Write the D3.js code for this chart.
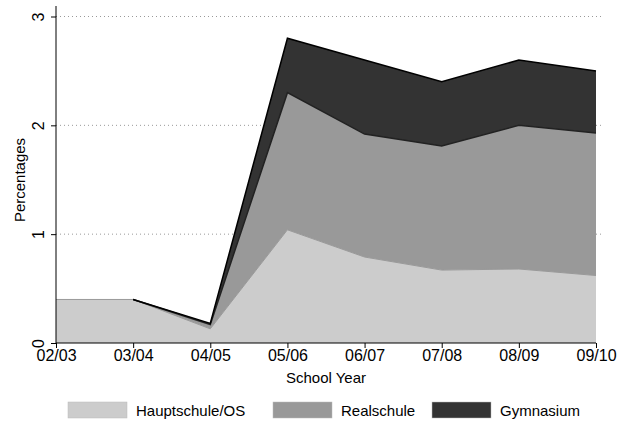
<!DOCTYPE html>
<html><head><meta charset="utf-8">
<script src="https://cdn.jsdelivr.net/npm/d3@7"></script>
<style>body{margin:0;background:#fff}text{font-family:"Liberation Sans",Arial,sans-serif}</style>
</head><body>
<script>
var years = ["02/03","03/04","04/05","05/06","06/07","07/08","08/09","09/10"]
var hauptschule = [0.40, 0.40, 0.13, 1.04, 0.79, 0.67, 0.68, 0.62]
var realschule = [null, 0.00, 0.04, 1.26, 1.13, 1.14, 1.32, 1.31]
var gymnasium = [null, 0.00, 0.01, 0.50, 0.68, 0.59, 0.60, 0.57]
var names = ["Hauptschule/OS","Realschule","Gymnasium"]
var fills = ["#cccccc","#999999","#333333"]
var yTicks = [0,1,2,3]

var svg = d3.select("body").append("svg").attr("width",624).attr("height",424)
var x = d3.scalePoint().domain(years).range([56,596])
var y = d3.scaleLinear().domain([0,3]).range([343,16.5])

// dotted grid
svg.selectAll(".grid").data(yTicks.slice(1)).enter().append("line")
  .attr("x1",56).attr("x2",604).attr("y1",y).attr("y2",y)
  .attr("stroke","#999").attr("stroke-dasharray","1,3")

var series = [hauptschule, realschule, gymnasium]
var stacks = series.map(function(s,k){
  return years.map(function(yr,i){
    var lo = 0
    for (var j=0;j<k;j++) lo += series[j][i] || 0
    return {yr:yr, lo:lo, hi: s[i]==null ? null : lo + s[i]}
  })
})
var area = d3.area().defined(function(d){return d.hi!=null})
  .x(function(d){return x(d.yr)}).y0(function(d){return y(d.lo)}).y1(function(d){return y(d.hi)})
var line = d3.line().defined(function(d){return d.hi!=null})
  .x(function(d){return x(d.yr)}).y(function(d){return y(d.hi)})
var strokes = ["#999","#222","#000"]
stacks.forEach(function(st,k){
  svg.append("path").attr("d",area(st)).attr("fill",fills[k])
})
stacks.forEach(function(st,k){
  svg.append("path").attr("d",line(st)).attr("fill","none").attr("stroke",strokes[k]).attr("stroke-width",k==0?1:1.5)
})

var ya = svg.append("g").attr("transform","translate(56,0)")
  .call(d3.axisLeft(y).tickValues(yTicks).tickSize(5).tickFormat(d3.format("d")))
ya.select(".domain").attr("d","M0,"+y(0)+"V6")
ya.selectAll("text").attr("x",null).attr("dy",null).attr("y",null)
  .attr("transform","translate(-12,0) rotate(-90)")
  .attr("text-anchor","middle").attr("font-size",16).attr("fill","#000")

var xa = svg.append("g").attr("transform","translate(0,343)")
  .call(d3.axisBottom(x).tickSize(5).tickPadding(2))
xa.select(".domain").attr("d","M56,0H596")
xa.selectAll("text").attr("font-size",16).attr("fill","#000")
svg.selectAll(".tick line").attr("stroke","#000")

svg.append("text").attr("x",326).attr("y",383).attr("text-anchor","middle").attr("font-size",15).text("School Year")
svg.append("text").attr("transform","translate(25,180) rotate(-90)").attr("text-anchor","middle").attr("font-size",15).text("Percentages")

var lx = [68,273,432]
names.forEach(function(n,k){
  svg.append("rect").attr("x",lx[k]).attr("y",402).attr("width",59).attr("height",16).attr("fill",fills[k]).attr("stroke","#bbb").attr("stroke-width",0.5)
  svg.append("text").attr("x",lx[k]+68).attr("y",416).attr("font-size",15).text(n)
})
</script>
</body></html>
